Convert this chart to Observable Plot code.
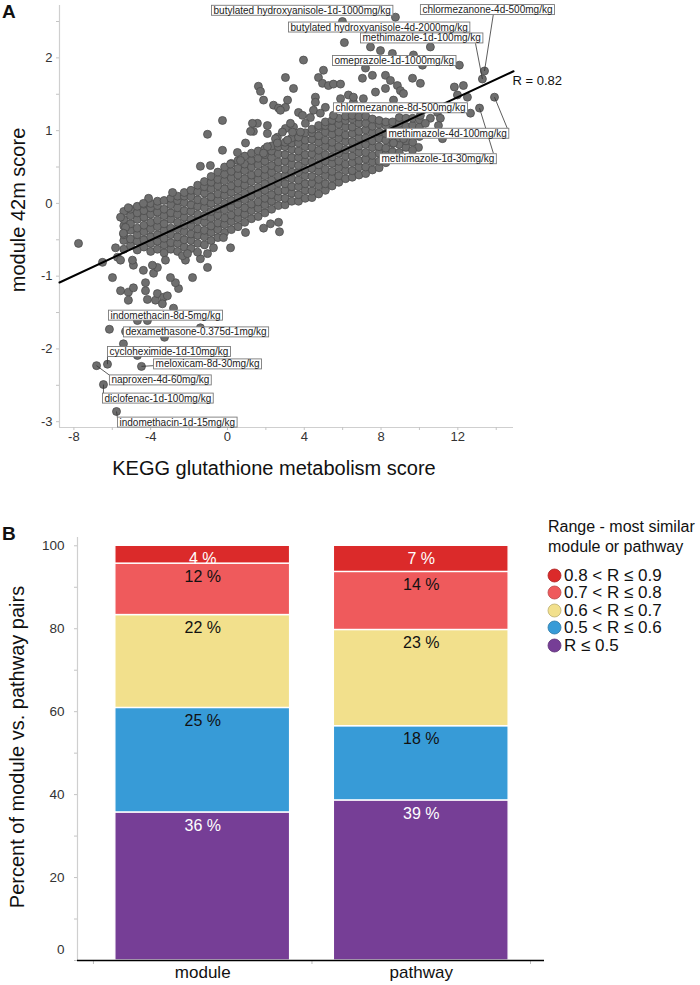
<!DOCTYPE html>
<html><head><meta charset="utf-8">
<script src="https://cdn.jsdelivr.net/npm/d3@7"></script>
<script src="https://cdn.jsdelivr.net/npm/@observablehq/plot@0.6"></script>
<style>
body{margin:0;background:#fff;}
#page{position:relative;width:700px;height:985px;font-family:"Liberation Sans",Arial,sans-serif;color:#111;overflow:hidden;background:#fff}
.abs{position:absolute;white-space:nowrap;line-height:1}
.rot{transform:translate(-50%,-50%) rotate(-90deg)}
.ctr{transform:translate(-50%,-50%)}
</style></head><body><div id="page"></div>
<script>
// ---------------- Panel A data ----------------
// dense core of the cloud: [x, [y values]] read column by column
const coreColumns = [
 [-5.4,[-0.63,-0.51,-0.43,-0.31,-0.22,-0.11]],
 [-5.05,[-0.58,-0.49,-0.37,-0.28,-0.17,-0.08]],
 [-4.7,[-0.64,-0.52,-0.43,-0.34,-0.22,-0.13,-0.04]],
 [-4.35,[-0.6,-0.5,-0.39,-0.3,-0.19,-0.1,-0.01]],
 [-4.0,[-0.66,-0.55,-0.46,-0.35,-0.26,-0.15,-0.06,0.0]],
 [-3.65,[-0.63,-0.52,-0.43,-0.32,-0.23,-0.12,-0.03,0.03]],
 [-3.3,[-0.68,-0.57,-0.48,-0.37,-0.28,-0.17,-0.08,0.04]],
 [-2.95,[-0.63,-0.54,-0.43,-0.34,-0.22,-0.13,-0.02,0.07]],
 [-2.6,[-0.66,-0.55,-0.46,-0.35,-0.26,-0.15,-0.06,0.04,0.1]],
 [-2.25,[-0.6,-0.5,-0.39,-0.3,-0.19,-0.1,0.01,0.1,0.15]],
 [-1.9,[-0.62,-0.51,-0.42,-0.31,-0.22,-0.11,-0.02,0.09,0.18]],
 [-1.55,[-0.55,-0.44,-0.35,-0.24,-0.15,-0.04,0.05,0.16,0.25]],
 [-1.2,[-0.57,-0.46,-0.37,-0.26,-0.17,-0.06,0.03,0.14,0.23,0.3]],
 [-0.85,[-0.51,-0.4,-0.31,-0.2,-0.11,0.0,0.09,0.2,0.29,0.37]],
 [-0.5,[-0.47,-0.36,-0.27,-0.16,-0.07,0.04,0.13,0.24,0.33,0.43]],
 [-0.15,[-0.4,-0.29,-0.2,-0.09,0.0,0.11,0.2,0.31,0.4,0.5]],
 [0.2,[-0.36,-0.25,-0.16,-0.05,0.04,0.15,0.24,0.35,0.44,0.55]],
 [0.55,[-0.32,-0.21,-0.12,-0.01,0.08,0.19,0.28,0.39,0.48,0.59]],
 [0.9,[-0.26,-0.15,-0.06,0.05,0.14,0.25,0.34,0.45,0.54,0.65]],
 [1.25,[-0.21,-0.1,-0.01,0.1,0.19,0.3,0.39,0.5,0.59,0.69]],
 [1.6,[-0.18,-0.07,0.02,0.13,0.22,0.33,0.42,0.53,0.62,0.72]],
 [1.95,[-0.13,-0.02,0.07,0.18,0.27,0.38,0.47,0.58,0.67,0.75]],
 [2.3,[-0.08,0.03,0.12,0.23,0.32,0.43,0.52,0.63,0.72,0.79]],
 [2.65,[-0.03,0.08,0.17,0.28,0.37,0.48,0.57,0.68,0.78]],
 [3.0,[-0.02,0.07,0.18,0.27,0.38,0.47,0.58,0.67,0.78,0.84]],
 [3.35,[0.03,0.14,0.23,0.34,0.43,0.54,0.63,0.74,0.83,0.9]],
 [3.7,[0.03,0.12,0.23,0.32,0.43,0.52,0.63,0.72,0.83,0.93]],
 [4.05,[0.07,0.18,0.27,0.38,0.47,0.58,0.67,0.78,0.87,0.97]],
 [4.4,[0.08,0.17,0.28,0.37,0.48,0.57,0.68,0.77,0.88,0.97,1.02]],
 [4.75,[0.13,0.24,0.33,0.44,0.53,0.64,0.73,0.84,0.93,1.04,1.07]],
 [5.1,[0.18,0.27,0.38,0.47,0.58,0.67,0.78,0.87,0.98,1.07,1.12]],
 [5.45,[0.24,0.35,0.44,0.55,0.64,0.75,0.84,0.95,1.04,1.14]],
 [5.8,[0.29,0.38,0.49,0.58,0.69,0.78,0.89,0.98,1.09,1.17]],
 [6.15,[0.34,0.45,0.54,0.65,0.74,0.85,0.94,1.05,1.14,1.2]],
 [6.5,[0.36,0.45,0.56,0.65,0.76,0.85,0.96,1.05,1.16,1.21]],
 [6.85,[0.39,0.5,0.59,0.7,0.79,0.9,0.99,1.1,1.19]],
 [7.2,[0.41,0.5,0.61,0.7,0.81,0.9,1.01,1.1,1.2]],
 [7.55,[0.46,0.57,0.66,0.77,0.86,0.97,1.06,1.16]],
 [7.9,[0.49,0.58,0.69,0.78,0.89,0.98,1.09,1.14]],
 [8.25,[0.56,0.67,0.76,0.87,0.96,1.07,1.12]],
 [8.6,[0.62,0.71,0.82,0.91,1.02,1.12]],
 [8.95,[0.7,0.81,0.9,1.01,1.1,1.18]],
 [9.3,[0.77,0.86,0.97,1.06,1.17]],
 [9.65,[0.84,0.96,1.07,1.17]],
 [10.0,[0.92,1.05,1.15]]
];
// scattered points around the core
const scatterPoints = [
 [3.96,1.97],[3.02,1.73],[3.44,1.58],[1.61,1.61],[1.72,1.54],[1.88,1.42],[2.40,1.35],[2.66,1.31],[3.13,1.42],[3.02,1.32],[2.76,1.28],[3.70,1.25],
 [5.00,1.83],[4.74,1.73],[4.95,1.65],[5.26,1.62],[5.52,1.64],[5.89,1.64],[4.58,1.46],[4.58,1.39],[5.10,1.32],[4.48,1.28],[5.89,1.44],[6.30,1.49],[6.56,1.39],
 [-0.26,1.14],[-1.04,0.95],[-0.26,0.73],[0.52,0.70],[-1.41,0.51],[-0.89,0.52],[0.94,0.83],[1.35,0.99],[1.56,1.10],[2.08,1.07],[2.60,0.91],[3.02,1.03],
 [3.44,1.05],[3.91,1.21],[4.32,1.18],[4.84,1.24],[5.52,1.21],[3.70,0.91],[3.80,0.98],[1.30,1.10],[1.20,0.99],[0.68,0.59],[0.16,0.54],[3.28,1.10],[4.06,1.10],
 [2.86,0.98],[3.39,0.98],[2.08,0.96],[2.50,0.89],[2.08,0.78],[2.60,0.83],[3.13,0.87],[1.88,0.69],
 [-2.86,0.15],[-4.11,0.07],[-4.38,0.0],[-5.16,-0.06],[-5.57,-0.19],[-5.31,-0.33],[-5.83,-0.61],[-7.76,-0.55],[-5.42,-0.41],[-5.73,-0.74],[-6.51,-0.81],
 [-5.99,-1.02],[-5.57,-1.20],[-5.16,-1.22],[-4.90,-1.16],[-5.16,-1.33],[-4.27,-1.09],[-4.27,-1.20],[-4.17,-1.32],[-3.75,-1.33],[-3.65,-1.24],[-3.33,-1.29],
 [-3.13,-1.27],[-3.39,-1.38],[-2.81,-1.44],[-4.69,-1.61],[-4.17,-1.61],[-3.28,-1.84],[-4.69,-2.09],[-1.41,-1.71],[-1.04,-0.88],[-1.82,-1.02],[-2.55,-1.17],
 [-2.71,-1.09],[-2.97,-1.02],[-3.85,-0.96],[-3.65,-0.88],[-3.91,-0.85],[-3.23,-0.78],[-2.19,-0.78],[-1.41,-0.76],[-4.38,-0.92],[-4.90,-0.85],[-4.95,-0.78],
 [-5.57,-0.78],[-2.34,-0.72],
 [2.24,-0.28],[2.66,-0.26],[1.88,-0.34],[2.71,-0.39],[0.94,-0.40],[-0.21,-0.47],[-0.73,-0.61],[0.16,-0.61],[-1.04,-0.69],[-1.56,-0.67],[-2.08,-0.69],
 [7.45,2.15],[7.97,2.10],[8.59,2.06],[10.57,2.15],[9.69,2.04],[10.16,1.90],[7.19,1.86],[7.55,1.76],[7.03,1.72],[8.23,1.76],[8.49,1.69],[9.64,1.72],
 [10.05,1.65],[8.23,1.58],[7.71,1.53],[8.85,1.62],[9.01,1.55],[9.17,1.51],[8.65,1.42],[7.08,1.44],[6.56,1.46],[11.82,1.60],[12.29,1.62],[11.98,1.49],
 [12.50,1.46],[11.30,1.32],[10.94,1.25],[10.57,1.17],[10.05,1.21],[11.09,1.17],[10.99,1.07],[10.31,1.10],[11.20,0.89],[9.95,0.77],[9.64,0.73],[9.17,0.89],
 [8.65,0.83],[5.99,2.50],[-5.42,-1.93]
];
// labelled treatments
const labelNames = ["butylated hydroxyanisole-1d-1000mg/kg","butylated hydroxyanisole-4d-2000mg/kg","chlormezanone-4d-500mg/kg",
 "methimazole-1d-100mg/kg","omeprazole-1d-1000mg/kg","chlormezanone-8d-500mg/kg","methimazole-4d-100mg/kg","methimazole-1d-30mg/kg",
 "indomethacin-8d-5mg/kg","dexamethasone-0.375d-1mg/kg","cycloheximide-1d-10mg/kg","meloxicam-8d-30mg/kg","naproxen-4d-60mg/kg",
 "diclofenac-1d-100mg/kg","indomethacin-1d-15mg/kg"];
const labelPointX = [8.75,6.09,13.39,13.28,12.08,12.66,13.91,13.13,-6.15,-5.31,-6.25,-4.48,-6.82,-6.46,-5.78];
const labelPointY = [2.56,2.21,1.82,1.71,1.90,1.24,1.46,1.31,-1.73,-1.76,-2.21,-2.24,-2.23,-2.49,-2.86];
const labelBoxX = [-0.83,3.18,10.05,6.93,5.47,5.52,8.28,7.92,-6.20,-5.42,-6.25,-3.85,-6.15,-6.51,-5.73];
const labelBoxY = [2.65,2.42,2.66,2.27,1.96,1.31,0.96,0.61,-1.54,-1.77,-2.04,-2.21,-2.43,-2.68,-3.01];
const leaderEndX = [null,null,13.85,12.92,null,null,14.58,13.85,null,null,-6.25,-3.85,-6.15,-6.46,-5.73];
const leaderEndY = [null,null,2.60,2.20,null,null,1.03,0.69,null,null,-2.10,-2.23,-2.36,-2.62,-2.95];
// fitted line (ends) and correlation
const fitX = [-8.75, 14.9];
const fitY = [-1.087, 1.816];
const fitLabel = "R = 0.82";
const xDomainA = [-8.75, 14.9];
const yDomainA = [-3.08, 2.72];
const xTicksA = [-8,-6,-4,-2,0,2,4,6,8,10,12,14];
const xLabelsA = [-8,-4,0,4,8,12];
const yTicksA = [-3,-2.5,-2,-1.5,-1,-0.5,0,0.5,1,1.5,2,2.5];
const yLabelsA = [-3,-2,-1,0,1,2];

// ---------------- Panel B data ----------------
const categories = ["module","pathway"];
const rangeNames = ["R ≤ 0.5","0.5 < R ≤ 0.6","0.6 < R ≤ 0.7","0.7 < R ≤ 0.8","0.8 < R ≤ 0.9"];
const rangeColors = ["#763e96","#379bd7","#f2e08c","#ef5a5c","#db2a2a"];
const segTextColors = ["#ffffff","#111111","#111111","#111111","#ffffff"];
const moduleValues = [35.7,25.2,22.4,12.4,4.3];
const pathwayValues = [38.6,17.9,23.2,14.0,6.3];
const moduleLabels = ["36 %","25 %","22 %","12 %","4 %"];
const pathwayLabels = ["39 %","18 %","23 %","14 %","7 %"];
const yTicksB = [0,10,20,30,40,50,60,70,80,90,100];
const yLabelsB = [20,40,60,80,100];
const legendTitle = ["Range - most similar","module or pathway"];

const FONT = "Liberation Sans, Arial, sans-serif";
const page = document.getElementById("page");
function addDiv(html, cls, css){ const d=document.createElement("div"); d.className="abs "+cls; d.innerHTML=html; Object.assign(d.style,css); page.appendChild(d); return d; }

// ---------- build panel A ----------
const pointsA = [
  ...coreColumns.flatMap(([x, ys]) => ys.map(y => ({x, y}))),
  ...scatterPoints.map(([x, y]) => ({x, y})),
  ...labelPointX.map((x, i) => ({x, y: labelPointY[i]}))
];
const labelsA = labelNames.map((name, i) => ({name, px: labelPointX[i], py: labelPointY[i], bx: labelBoxX[i], by: labelBoxY[i], lx: leaderEndX[i], ly: leaderEndY[i]}));
const fitLine = fitX.map((x, i) => ({x, y: fitY[i]}));

const chartA = Plot.plot({
  width: 700, height: 450,
  marginLeft: 59, marginRight: 187, marginTop: 5, marginBottom: 23,
  x: {domain: xDomainA, label: null}, y: {domain: yDomainA, label: null},
  style: {fontFamily: FONT, background: "transparent", overflow: "visible"},
  marks: [
    Plot.ruleX([xDomainA[0]], {stroke: "#cfcfcf", strokeWidth: 1.2}),
    Plot.ruleY([yDomainA[0]], {stroke: "#cfcfcf", strokeWidth: 1.2}),
    Plot.axisY({ticks: yTicksA, tickSize: 3, stroke: "#c4c4c4", tickFormat: () => "", label: null}),
    Plot.axisY({ticks: yLabelsA, tickSize: 0, tickPadding: 7, fill: "#333", fontSize: 13, tickFormat: d => String(d), label: null}),
    Plot.axisX({ticks: xTicksA, tickSize: 3, stroke: "#c4c4c4", tickFormat: () => "", label: null}),
    Plot.axisX({ticks: xLabelsA, tickSize: 0, tickPadding: 4, fill: "#333", fontSize: 13, tickFormat: d => String(d), label: null}),
    Plot.dot(pointsA, {x: "x", y: "y", r: 4, fill: "#6e6e6e", stroke: "#4d4d4d", strokeWidth: 0.8}),
    Plot.line(fitLine, {x: "x", y: "y", stroke: "#000", strokeWidth: 2}),
    Plot.link(labelsA.filter(d => d.lx != null), {x1: "px", y1: "py", x2: "lx", y2: "ly", stroke: "#333", strokeWidth: 0.8}),
    Plot.text(labelsA, {x: "bx", y: "by", text: "name", textAnchor: "start", dx: 2, fontSize: 10, fill: "#222"}),
    Plot.text([fitLine[1]], {x: "x", y: "y", text: () => fitLabel, textAnchor: "start", dx: -1, dy: 10, fontSize: 13, fill: "#111"})
  ]
});
const wrapA = document.createElement("div");
Object.assign(wrapA.style, {position: "absolute", left: "0px", top: "0px"});
wrapA.appendChild(chartA);
page.appendChild(wrapA);
// white boxes behind the treatment labels
d3.select(chartA).selectAll("text").filter(function(){ return labelNames.includes(this.textContent); }).each(function(){
  const b = this.getBBox();
  const r = document.createElementNS("http://www.w3.org/2000/svg","rect");
  r.setAttribute("x", b.x - 2); r.setAttribute("y", b.y + 0.5);
  r.setAttribute("width", b.width + 4); r.setAttribute("height", b.height - 1);
  r.setAttribute("fill", "#fff"); r.setAttribute("stroke", "#7a7a7a"); r.setAttribute("stroke-width", "0.9");
  const t = this.getAttribute("transform"); if (t) r.setAttribute("transform", t);
  this.parentNode.insertBefore(r, this);
});

addDiv("A", "", {left: "2px", top: "2px", fontSize: "19px", fontWeight: "bold"});
addDiv("module 42m score", "rot", {left: "18px", top: "210px", fontSize: "20px"});
addDiv("KEGG glutathione metabolism score", "ctr", {left: "274px", top: "468px", fontSize: "20px"});

// ---------- build panel B ----------
const segments = [];
categories.forEach((cat, i) => {
  const vals = i === 0 ? moduleValues : pathwayValues;
  const labs = i === 0 ? moduleLabels : pathwayLabels;
  let acc = 0;
  vals.forEach((v, k) => {
    segments.push({cat, i, k, y1: acc, y2: acc + v, label: labs[k], fill: rangeColors[k], tc: segTextColors[k]});
    acc += v;
  });
});
const chartB = Plot.plot({
  width: 700, height: 500,
  marginLeft: 77, marginRight: 156, marginTop: 52, marginBottom: 25,
  x: {domain: [-0.573, 1.564], label: null}, y: {domain: [0, 102], label: null},
  color: {type: "identity"},
  style: {fontFamily: FONT, background: "transparent", overflow: "visible"},
  marks: [
    Plot.rectY(segments, {x1: d => d.i - 0.4, x2: d => d.i + 0.4, y1: "y1", y2: "y2", fill: "fill", stroke: "#fff", strokeWidth: 1.4}),
    Plot.text(segments, {x: "i", y: "y2", text: "label", dy: 13, fill: "tc", fontSize: 16}),
    Plot.ruleX([-0.573], {stroke: "#cfcfcf", strokeWidth: 1.2}),
    Plot.axisY({ticks: yTicksB, tickSize: 3, stroke: "#c4c4c4", tickFormat: () => "", label: null}),
    Plot.axisY({ticks: yLabelsB, tickSize: 0, tickPadding: 13, fill: "#333", fontSize: 13.5, tickFormat: d => String(d), label: null}),
    Plot.axisY({ticks: [0], tickSize: 0, tickPadding: 13, fill: "#333", fontSize: 13.5, dy: -11, tickFormat: d => String(d), label: null}),
    Plot.axisX({ticks: [-0.5, 0.5, 1.5], tickSize: 4, stroke: "#bdbdbd", tickFormat: () => "", label: null}),
    Plot.axisX({ticks: [0, 1], tickSize: 0, tickPadding: 5, fill: "#111", fontSize: 17, tickFormat: d => categories[d], label: null}),
    Plot.ruleY([0], {stroke: "#000", strokeWidth: 1.5})
  ]
});
const wrapB = document.createElement("div");
Object.assign(wrapB.style, {position: "absolute", left: "0px", top: "485px"});
wrapB.appendChild(chartB);
page.appendChild(wrapB);

addDiv("B", "", {left: "2px", top: "524px", fontSize: "19px", fontWeight: "bold"});
addDiv("Percent of module vs. pathway pairs", "rot", {left: "17px", top: "747px", fontSize: "20px"});

// legend
addDiv(legendTitle[0], "", {left: "548px", top: "519px", fontSize: "16px"});
addDiv(legendTitle[1], "", {left: "548px", top: "539px", fontSize: "16px"});
const legendOrder = d3.range(rangeNames.length).reverse();
legendOrder.forEach((k, j) => {
  const cy = 575 + j * 17.5;
  const col = rangeColors[k];
  const dark = d3.color(col).darker(0.7).formatHex();
  addDiv(`<svg width="15" height="15" style="display:block"><circle cx="7.5" cy="7.5" r="6.5" fill="${col}" stroke="${dark}" stroke-width="0.8"/></svg>`,
    "", {left: "547px", top: (cy - 7.5) + "px"});
  addDiv(rangeNames[k], "", {left: "564px", top: (cy - 8.5) + "px", fontSize: "17px"});
});
</script></body></html>
